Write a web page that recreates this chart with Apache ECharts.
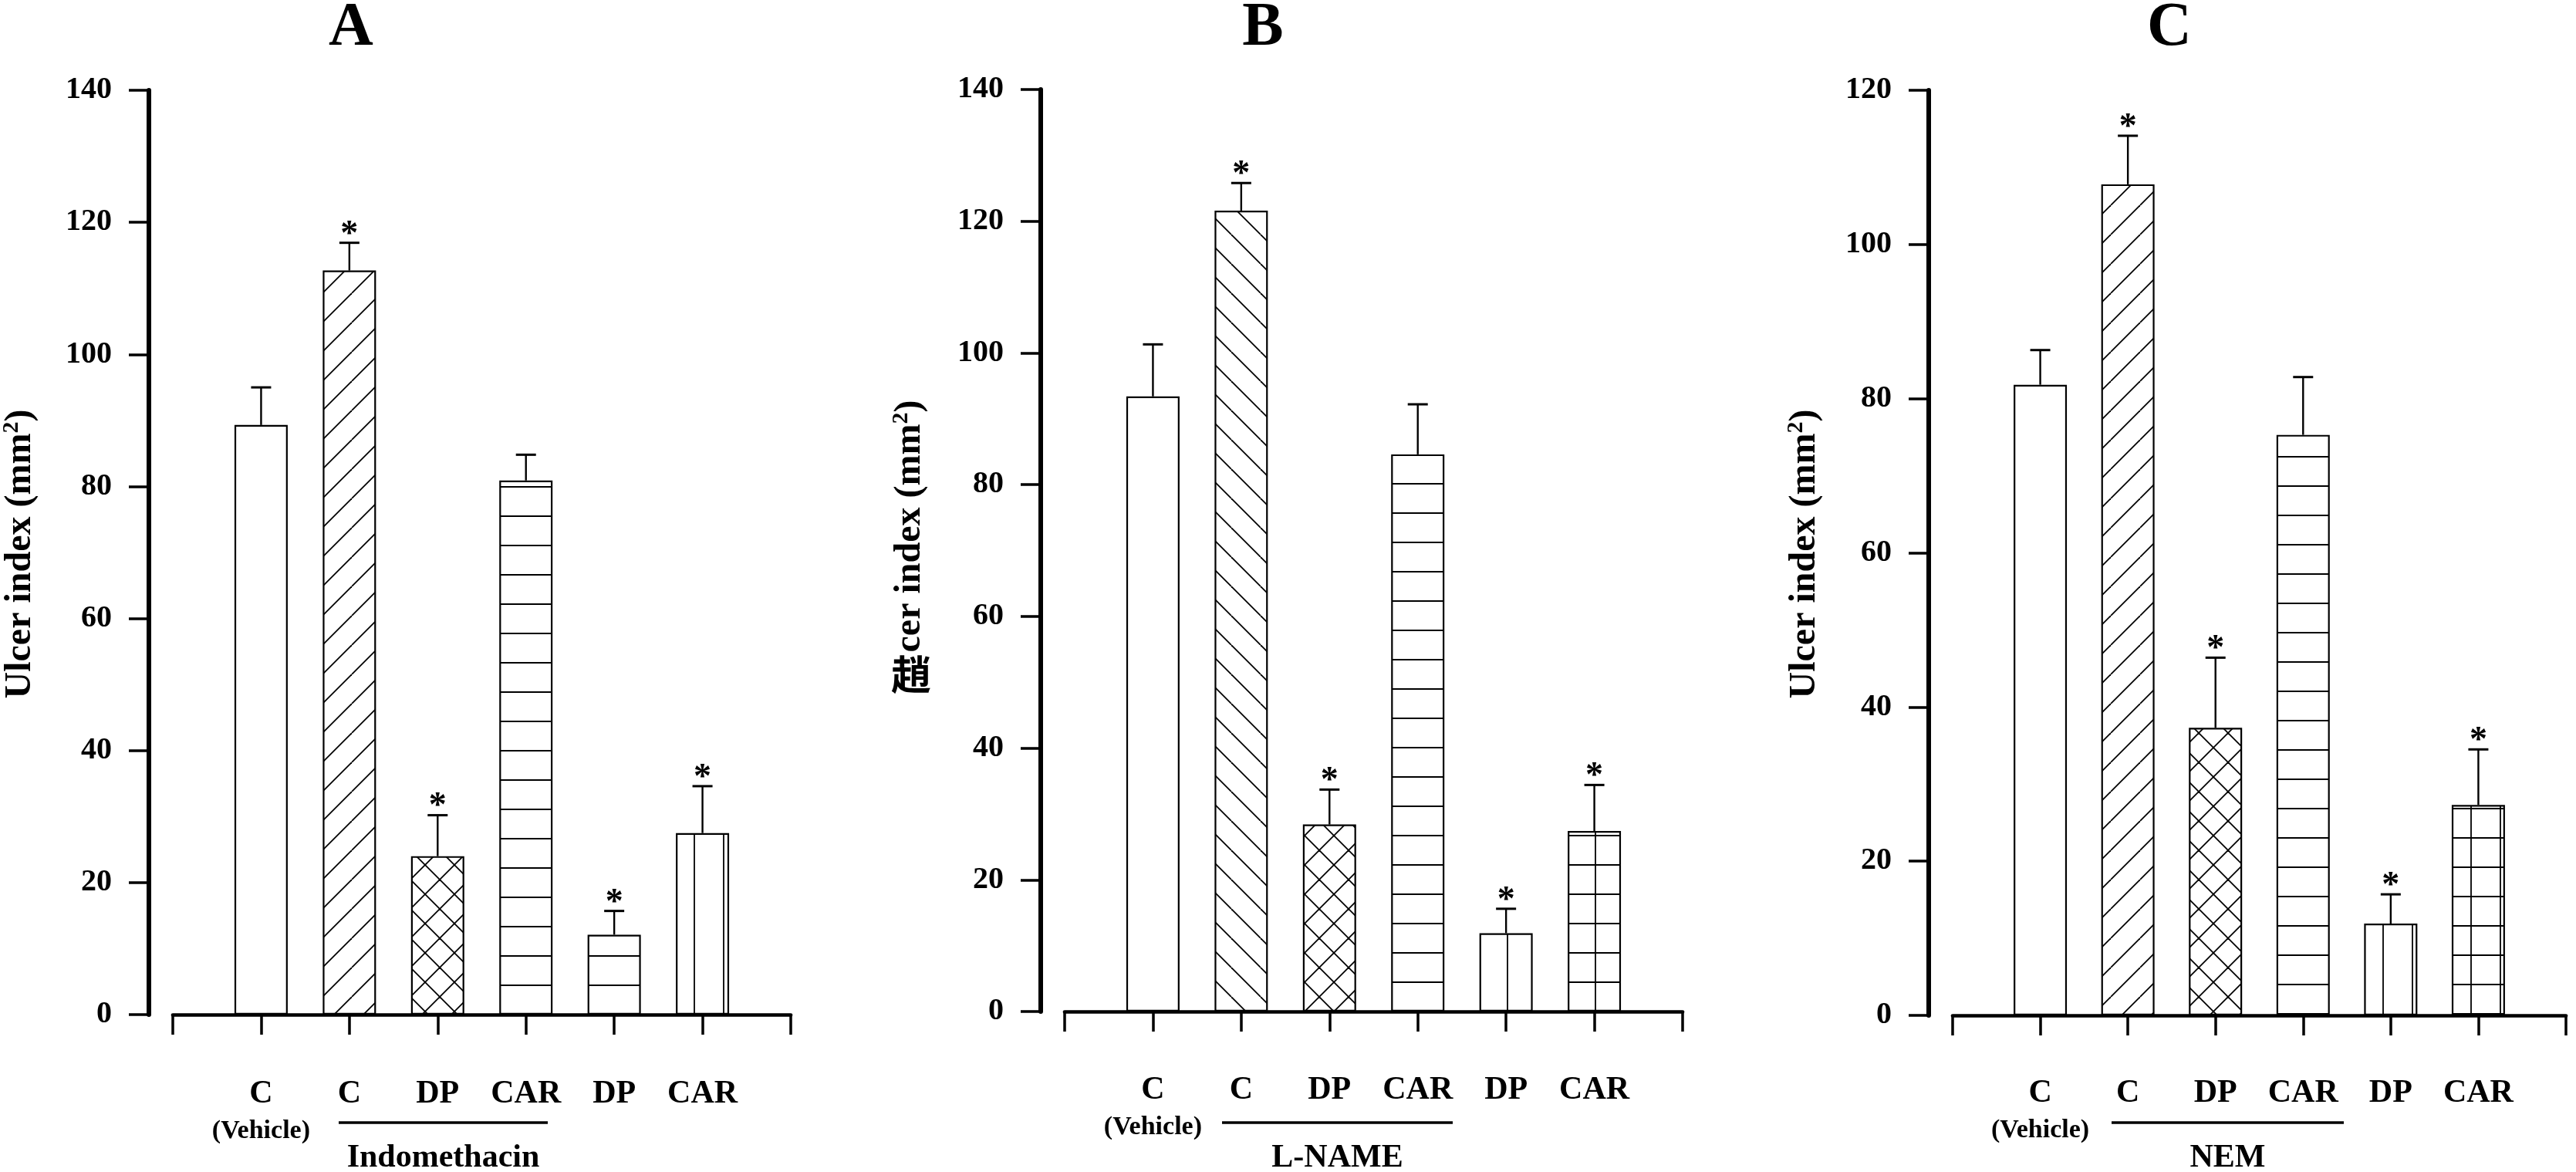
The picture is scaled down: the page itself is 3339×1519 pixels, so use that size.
<!DOCTYPE html>
<html>
<head>
<meta charset="utf-8">
<title>Ulcer index</title>
<script src="https://cdn.jsdelivr.net/npm/echarts@6.0.0/dist/echarts.min.js"></script>
<style>
  html, body { margin: 0; padding: 0; background: #fff; }
  #chart { width: 3339px; height: 1519px; }
</style>
</head>
<body>
<div id="chart"></div>
<script>
// categories (first and last slot are the empty ends of the x axis)
const categories = ['', 'C', 'C', 'DP', 'CAR', 'DP', 'CAR', ''];
const panelTitles = ['A', 'B', 'C'];
const groupNames = ['Indomethacin', 'L-NAME', 'NEM'];
const yMaxes = [140, 140, 120];

// means, SEM and significance (*) per panel
const meanA = [89.3, 112.7, 24.0, 80.9, 12.1, 27.5];
const errA = [5.7, 4.2, 6.2, 3.9, 3.6, 7.1];
const sigA = [0, 1, 1, 0, 1, 1];

const meanB = [93.4, 121.6, 28.4, 84.6, 11.9, 27.4];
const errB = [7.9, 4.2, 5.3, 7.6, 3.7, 7.0];
const sigB = [0, 1, 1, 0, 1, 1];

const meanC = [81.8, 107.8, 37.3, 75.3, 11.9, 27.3];
const errC = [4.5, 6.3, 9.1, 7.5, 3.8, 7.2];
const sigC = [0, 1, 1, 0, 1, 1];

const means = [meanA, meanB, meanC];
const errs = [errA, errB, errC];
const sigs = [sigA, sigB, sigC];

// fill pattern of each bar
const fills = [
  ['none', 'up', 'cross', 'h', 'h', 'v'],
  ['none', 'down', 'cross', 'h', 'v', 'grid'],
  ['none', 'up', 'cross', 'h', 'v', 'grid']
];

const FONT = '"Liberation Serif", "Times New Roman", serif';

// pixel layout of the three panels
const layout = [
  { yx: 193, left: 224, width: 801, top: 117, zero: 1315, xAxisY: 1364, group: [439, 710], titleX: 455, nameX: 27, nameY: 718, hy: 23, vx: 26 },
  { yx: 1349, left: 1380, width: 801, top: 116, zero: 1311, xAxisY: 1359, group: [1584, 1883], titleX: 1637, nameX: 1180, nameY: 682, hy: 19, vx: 16 },
  { yx: 2500, left: 2531, width: 795, top: 117, zero: 1316, xAxisY: 1363, group: [2737, 3038], titleX: 2812, nameX: 2340, nameY: 718, hy: 22, vx: 11 }
];

function makePattern(kind, p) {
  if (kind === 'none') return '#fff';
  const s = 38;
  const c = document.createElement('canvas');
  c.width = s; c.height = s;
  const g = c.getContext('2d');
  g.fillStyle = '#fff';
  g.fillRect(0, 0, s, s);
  g.strokeStyle = '#000';
  g.lineWidth = 1.8;
  const line = (x1, y1, x2, y2) => { g.beginPath(); g.moveTo(x1, y1); g.lineTo(x2, y2); g.stroke(); };
  if (kind === 'h' || kind === 'grid') line(0, p.hy, s, p.hy);
  if (kind === 'v' || kind === 'grid') line(p.vx, 0, p.vx, s);
  for (let k = -1; k <= 1; k++) {
    if (kind === 'up' || kind === 'cross') line(k * s, s, k * s + s, 0);
    if (kind === 'down' || kind === 'cross') line(k * s, 0, k * s + s, s);
  }
  return { image: c, repeat: 'repeat' };
}

const grids = [], xAxes = [], yAxes = [], series = [], graphics = [];

layout.forEach(function (p, i) {
  grids.push({
    left: p.left, top: p.top, width: p.width, height: p.zero - p.top,
    outerBoundsMode: 'none'
  });

  xAxes.push({
    type: 'category',
    gridIndex: i,
    data: categories,
    boundaryGap: false,
    offset: p.xAxisY - p.zero,
    axisLine: { lineStyle: { color: '#000', width: 4.7 } },
    axisTick: { interval: 0, length: 26, lineStyle: { color: '#000', width: 3.5 } },
    axisLabel: {
      interval: 0,
      margin: 32,
      color: '#000',
      formatter: function (value, idx) {
        if (!value) return '';
        return idx === 1 ? '{m|' + value + '}\n{s|(Vehicle)}' : '{m|' + value + '}';
      },
      rich: {
        m: { fontSize: 42, lineHeight: 44, fontWeight: 'bold', fontFamily: FONT, color: '#000' },
        s: { fontSize: 34, lineHeight: 52, fontWeight: 'bold', fontFamily: FONT, color: '#000' }
      }
    },
    splitLine: { show: false }
  });

  yAxes.push({
    type: 'value',
    gridIndex: i,
    min: 0,
    max: yMaxes[i],
    interval: 20,
    offset: p.left - p.yx,
    axisLine: { show: true, lineStyle: { color: '#000', width: 6 } },
    axisTick: { show: true, length: 26, lineStyle: { color: '#000', width: 3.5 } },
    axisLabel: { margin: 48, fontSize: 40, fontWeight: 'bold', fontFamily: FONT, color: '#000' },
    splitLine: { show: false }
  });

  const barData = ['-'];
  means[i].forEach(function (m, j) {
    barData.push({ value: m, itemStyle: { color: makePattern(fills[i][j], p) } });
  });
  barData.push('-');

  series.push({
    type: 'bar',
    xAxisIndex: i,
    yAxisIndex: i,
    barWidth: 69,
    data: barData,
    itemStyle: { borderColor: '#000', borderWidth: 2.2 },
    silent: true,
    animation: false
  });

  // error bars and significance stars
  series.push({
    type: 'custom',
    xAxisIndex: i,
    yAxisIndex: i,
    clip: false,
    silent: true,
    animation: false,
    z: 5,
    encode: { x: 0, y: 1 },
    data: means[i].map(function (m, j) { return [j + 1, m, errs[i][j], sigs[i][j]]; }),
    renderItem: function (params, api) {
      const x = api.value(0), m = api.value(1), e = api.value(2), s = api.value(3);
      const p0 = api.coord([x, m]);
      const p1 = api.coord([x, m + e]);
      const children = [
        { type: 'line', shape: { x1: p0[0], y1: p0[1], x2: p1[0], y2: p1[1] }, style: { stroke: '#000', lineWidth: 2.4 } },
        { type: 'line', shape: { x1: p1[0] - 13, y1: p1[1], x2: p1[0] + 13, y2: p1[1] }, style: { stroke: '#000', lineWidth: 3 } }
      ];
      if (s) {
        children.push({
          type: 'text',
          x: p1[0], y: p1[1] - 10,
          style: { text: '*', fontSize: 46, fontWeight: 'bold', fontFamily: FONT, fill: '#000', align: 'center', verticalAlign: 'middle' }
        });
      }
      return { type: 'group', children: children };
    }
  });

  // panel letter
  graphics.push({
    type: 'text', x: p.titleX, y: 37, silent: true,
    style: { text: panelTitles[i], fontSize: 80, fontWeight: 'bold', fontFamily: FONT, fill: '#000', align: 'center', verticalAlign: 'middle' }
  });

  // treatment group underline and name
  graphics.push({
    type: 'line', silent: true,
    shape: { x1: p.group[0], y1: 1455, x2: p.group[1], y2: 1455 },
    style: { stroke: '#000', lineWidth: 3.5 }
  });
  graphics.push({
    type: 'text', x: (p.group[0] + p.group[1]) / 2, y: 1501, silent: true,
    style: { text: groupNames[i], fontSize: 42, fontWeight: 'bold', fontFamily: FONT, fill: '#000', align: 'center', verticalAlign: 'middle' }
  });

  // y axis name
  const nameText = i === 1 ? 'cer index (mm{sup|2})' : 'Ulcer index (mm{sup|2})';
  graphics.push({
    type: 'text', x: p.nameX, y: p.nameY, rotation: Math.PI / 2, silent: true,
    style: {
      text: nameText, fontSize: 48, fontWeight: 'bold', fontFamily: FONT, fill: '#000',
      align: 'center', verticalAlign: 'middle',
      rich: { sup: { fontSize: 30, lineHeight: 54, verticalAlign: 'top', fontWeight: 'bold', fontFamily: FONT, fill: '#000' } }
    }
  });
});

// the odd upright glyph that stands in for "Ul" in panel B
graphics.push({
  type: 'text', x: 1181, y: 874, silent: true,
  style: { text: '趙', fontSize: 52, fontWeight: 'bold', fontFamily: '"Noto Sans CJK SC"', fill: '#000', align: 'center', verticalAlign: 'middle' }
});

const myChart = echarts.init(document.getElementById('chart'));
myChart.setOption({
  backgroundColor: '#fff',
  animation: false,
  grid: grids,
  xAxis: xAxes,
  yAxis: yAxes,
  series: series,
  graphic: graphics
});
</script>
</body>
</html>
